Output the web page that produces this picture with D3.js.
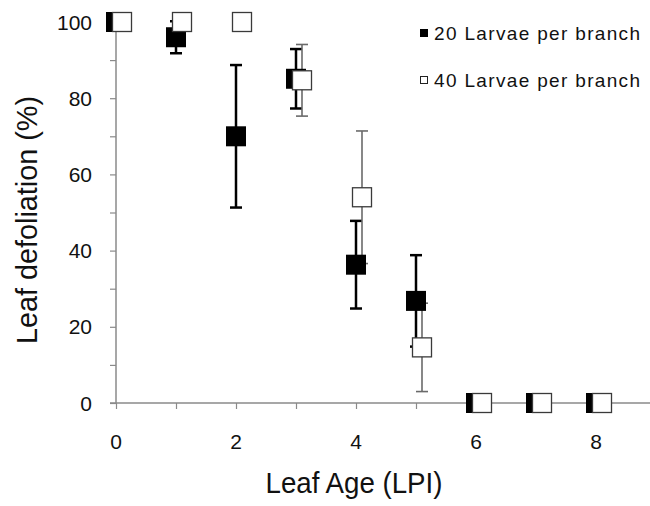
<!DOCTYPE html>
<html>
<head>
<meta charset="utf-8">
<script src="https://cdn.jsdelivr.net/npm/d3@7"></script>
<style>
  html, body { margin: 0; padding: 0; background: #fff; }
  svg { display: block; font-family: "Liberation Sans", Arial, sans-serif; }
</style>
</head>
<body>
<svg id="chart" width="650" height="506"></svg>
<script>
// ---- data ----
const leafAge = [0, 1, 2, 3, 4, 5, 6, 7, 8];
const larvae20 = [100, 96, 70, 85.1, 36.3, 26.8, 0, 0, 0];
const larvae20Err = [0, 4.2, 18.7, 7.8, 11.5, 12, 0, 0, 0];
const larvae40 = [100, 100, 100, 84.7, 54, 14.6, 0, 0, 0];
const larvae40Err = [0, 0, 0, 9.4, 17.4, 11.6, 0, 0, 0];
const yTicks = [0, 20, 40, 60, 80, 100];
const yMinorTicks = [10, 30, 50, 70, 90];
const xTicks = [0, 1, 2, 3, 4, 5, 6, 7, 8];
const xTickLabels = ["0", "", "2", "", "4", "", "6", "", "8"];
const seriesNames = ["20 Larvae per branch", "40 Larvae per branch"];

const svg = d3.select("#chart");
const x = d3.scaleLinear().domain([0, 8.9]).range([116, 650]);
const y = d3.scaleLinear().domain([0, 100]).range([403, 22]);
const axisColor = "#8a8a8a";
const offset40 = 0.1;
const sq = 20, cap = 12;

// y axis
const yAxis = svg.append("g").attr("transform", `translate(${x(0)},0)`)
  .call(d3.axisLeft(y).tickValues(yTicks.concat(yMinorTicks)).tickSize(6).tickFormat(""));
yAxis.select(".domain").attr("stroke", axisColor).attr("stroke-width", 1.5).attr("d", `M0,${y(0)}V${y(100)}`);
yAxis.selectAll(".tick line").attr("stroke", axisColor).attr("stroke-width", 1.2);

svg.append("g").selectAll("text").data(yTicks).join("text")
  .attr("x", 92).attr("y", d => y(d)).attr("dy", "0.36em")
  .attr("text-anchor", "end").attr("font-size", 21).attr("fill", "#111")
  .text(d => d);

// x axis
const xAxis = svg.append("g").attr("transform", `translate(0,${y(0)})`)
  .call(d3.axisBottom(x).tickValues(xTicks).tickSize(6).tickFormat(""));
xAxis.select(".domain").attr("stroke", axisColor).attr("stroke-width", 1.5).attr("d", `M${x(0) - 6},0H650`);
xAxis.selectAll(".tick line").attr("stroke", axisColor).attr("stroke-width", 1.2);

svg.append("g").selectAll("text").data(xTicks).join("text")
  .attr("x", d => x(d)).attr("y", 449)
  .attr("text-anchor", "middle").attr("font-size", 21).attr("fill", "#111")
  .text((d, i) => xTickLabels[i]);

// axis titles
svg.append("text").attr("x", 354).attr("y", 493).attr("text-anchor", "middle")
  .attr("font-size", 29).attr("fill", "#111")
  .attr("textLength", 177).attr("lengthAdjust", "spacingAndGlyphs")
  .text("Leaf Age (LPI)");
svg.append("text").attr("transform", "translate(37,220) rotate(-90)").attr("text-anchor", "middle")
  .attr("font-size", 29).attr("fill", "#111")
  .attr("textLength", 248).attr("lengthAdjust", "spacingAndGlyphs")
  .text("Leaf defoliation (%)");

// error bars
function errorBars(vals, errs, dx, color, width) {
  const pts = leafAge.map((a, i) => ({ a: a + dx, v: vals[i], e: errs[i] })).filter(d => d.e > 0);
  const g = svg.append("g").attr("stroke", color).attr("stroke-width", width);
  g.selectAll(".v").data(pts).join("line")
    .attr("x1", d => x(d.a)).attr("x2", d => x(d.a))
    .attr("y1", d => y(d.v + d.e)).attr("y2", d => y(d.v - d.e));
  g.selectAll(".t").data(pts).join("line")
    .attr("x1", d => x(d.a) - cap / 2).attr("x2", d => x(d.a) + cap / 2)
    .attr("y1", d => y(d.v + d.e)).attr("y2", d => y(d.v + d.e));
  g.selectAll(".b").data(pts).join("line")
    .attr("x1", d => x(d.a) - cap / 2).attr("x2", d => x(d.a) + cap / 2)
    .attr("y1", d => y(d.v - d.e)).attr("y2", d => y(d.v - d.e));
}
errorBars(larvae20, larvae20Err, 0, "#000", 2.5);
errorBars(larvae40, larvae40Err, offset40, "#6a6a6a", 1.6);

// markers
svg.append("g").selectAll("rect").data(leafAge).join("rect")
  .attr("x", (d) => x(d) - sq / 2).attr("y", (d, i) => y(larvae20[i]) - sq / 2)
  .attr("width", sq).attr("height", sq).attr("fill", "#000");
svg.append("g").selectAll("rect").data(leafAge).join("rect")
  .attr("x", (d) => x(d + offset40) - sq / 2 + 0.5).attr("y", (d, i) => y(larvae40[i]) - sq / 2 + 0.5)
  .attr("width", sq - 1).attr("height", sq - 1).attr("fill", "#fff")
  .attr("stroke", "#3a3a3a").attr("stroke-width", 1.3);

// legend
const legend = svg.append("g");
legend.append("rect").attr("x", 420).attr("y", 29).attr("width", 8).attr("height", 8).attr("fill", "#000");
legend.append("rect").attr("x", 420.5).attr("y", 76.5).attr("width", 7).attr("height", 7)
  .attr("fill", "#fff").attr("stroke", "#222").attr("stroke-width", 1);
legend.selectAll("text").data(seriesNames).join("text")
  .attr("x", 434).attr("y", (d, i) => i === 0 ? 40 : 86.5)
  .attr("font-size", 19).attr("fill", "#111")
  .attr("textLength", 206).attr("lengthAdjust", "spacing")
  .text(d => d);
</script>
</body>
</html>
